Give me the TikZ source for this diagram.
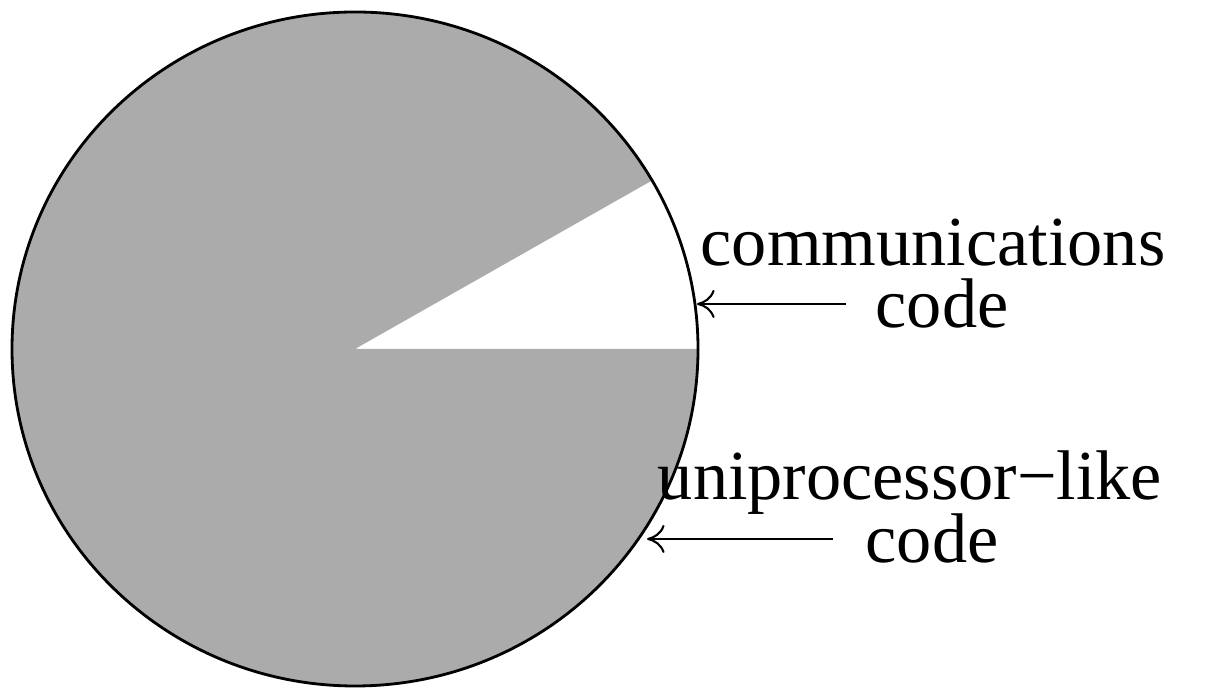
\documentclass[tikz,border=0pt]{standalone}
\usepackage{fontspec}
\setmainfont{Liberation Serif}
\usetikzlibrary{arrows.meta}
\definecolor{piegray}{gray}{0.67}
\tikzset{
	lbl/.style={inner sep=0pt, font=\fontsize{20}{24}\selectfont, anchor=base},
	pointer/.style={line width=0.6pt, -{To[length=5pt, width=8pt]}}
}
\begin{document}
\begin{tikzpicture}
\useasboundingbox (0,0) rectangle (12.05,6.88);

\coordinate (C) at (3.55,3.39);

% Torta
	\fill[piegray] (C) -- ++(2.970,1.685) arc[start angle=30, end angle=360, x radius=3.43, y radius=3.37] -- cycle;
	\draw[line width=0.8pt] (C) ellipse[x radius=3.43, y radius=3.37];

% Rotulos
\node[lbl] (comm) at (9.33,4.22) {communications};
\node[lbl] (commcode) at (9.42,3.60) {code};
\node[lbl] (uni) at (9.10,1.88) {uniprocessor−like};
\node[lbl] (unicode) at (9.32,1.25) {code};

% Flechas
\coordinate (commtip) at (6.97,3.86);
\coordinate (unitip) at (6.47,1.45);
	\draw[pointer] ([xshift=-0.29cm]commcode.west) -- (commcode.west -| commtip);
	\draw[pointer] ([xshift=-0.32cm]unicode.west) -- (unicode.west -| unitip);
\end{tikzpicture}
\end{document}
